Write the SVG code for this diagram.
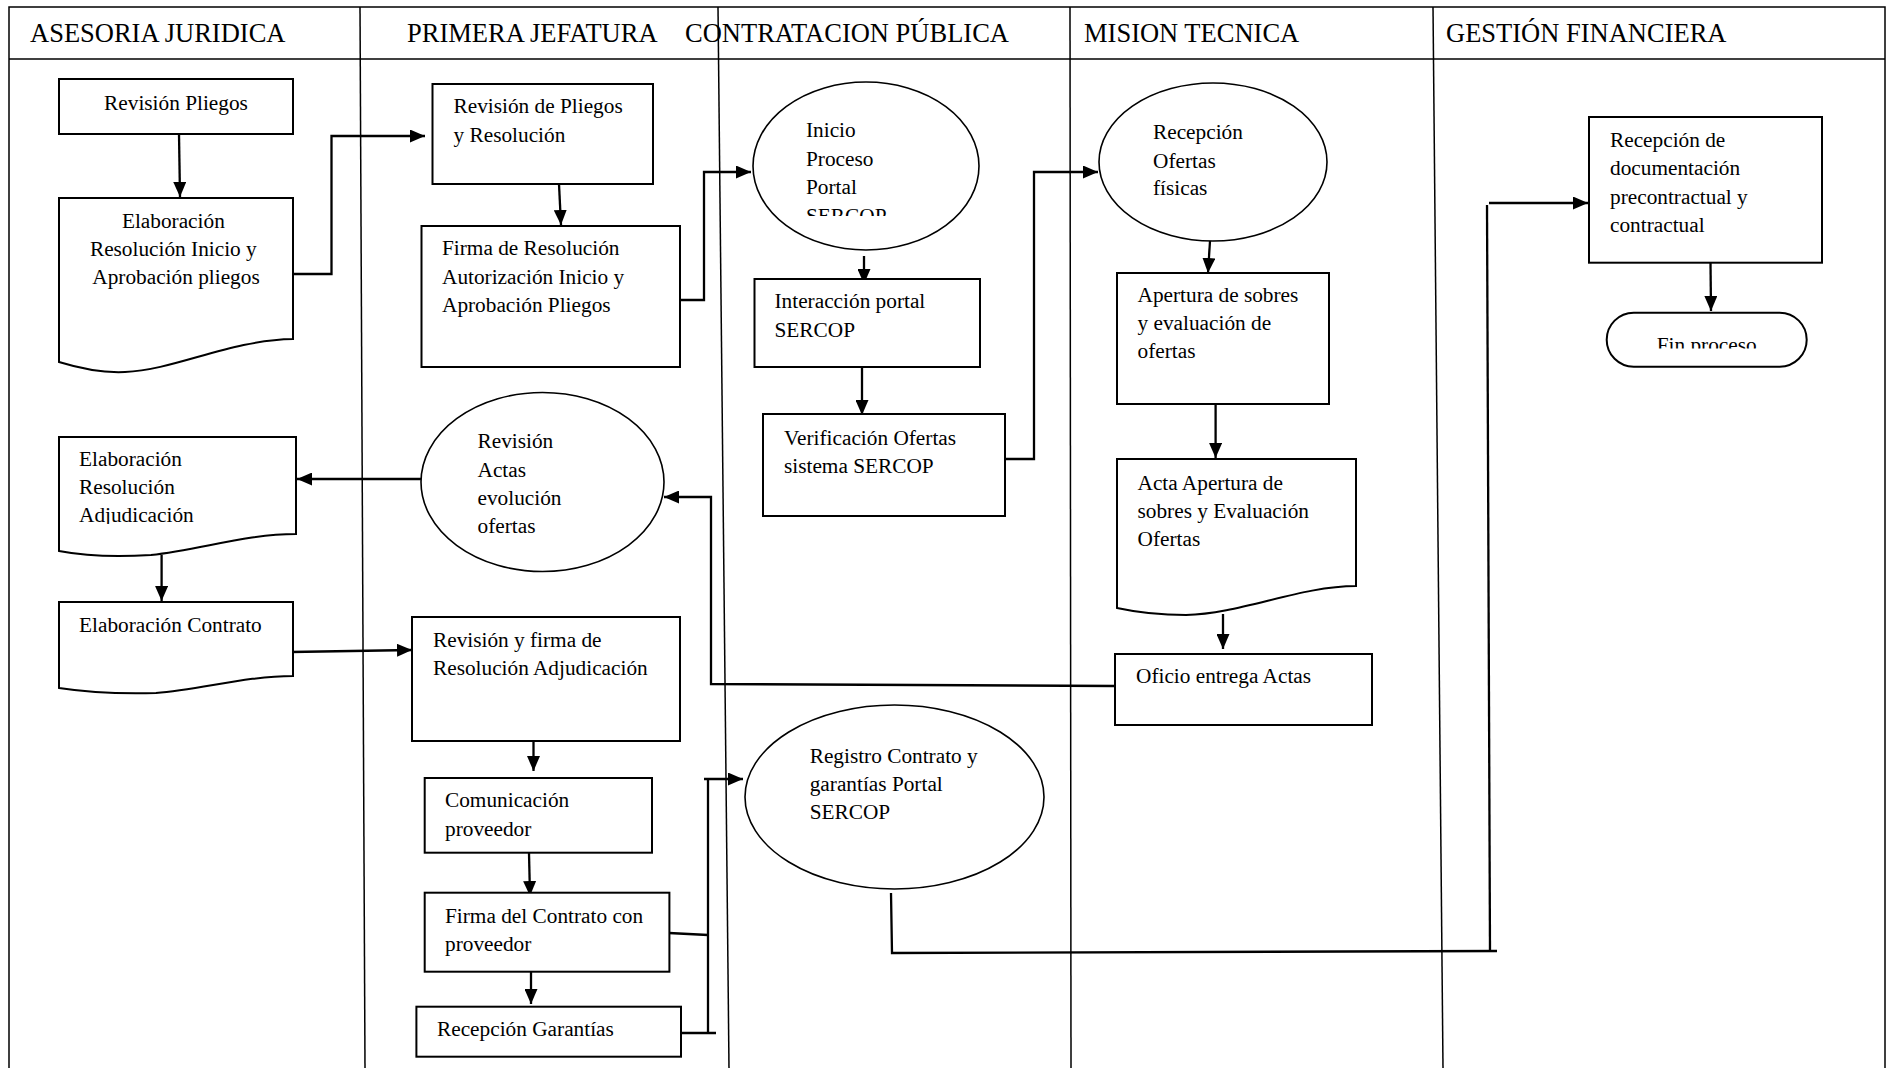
<svg xmlns="http://www.w3.org/2000/svg" width="1895" height="1068" viewBox="0 0 1895 1068">
  <style>
    .lane { fill: none; stroke: #000; stroke-width: 1.5; }
    .hdr { font-family: "Liberation Serif", "Times New Roman", serif; font-size: 26.5px; fill: #000; }
    .box { fill: #fff; stroke: #000; stroke-width: 2; }
    .oval { fill: #fff; stroke: #000; stroke-width: 1.6; }
    .t { font-family: "Liberation Serif", "Times New Roman", serif; font-size: 21.3px; fill: #000; }
    .conn path { fill: none; stroke: #000; stroke-width: 2.3; }
    .conn .arr { marker-end: url(#arrow); }
  </style>
  <defs>
    <marker id="arrow" markerUnits="userSpaceOnUse" markerWidth="15" markerHeight="13" refX="15" refY="6.5" orient="auto">
      <path d="M0,0 L15,6.5 L0,13 z" fill="#000"/>
    </marker>
    <clipPath id="clipInicio"><rect x="760" y="100" width="200" height="116"/></clipPath>
    <clipPath id="clipFin"><rect x="1610" y="320" width="195" height="28.5"/></clipPath>
    <clipPath id="clipAdj"><rect x="60" y="440" width="230" height="84"/></clipPath>
  </defs>

  <rect width="1895" height="1068" fill="#fff"/>

  <!-- swimlane frame -->
  <g id="lanes">
    <path class="lane" d="M9,1068 V7 H1885 V1068" stroke-width="2"/>
    <path class="lane" d="M9,59 H1885" stroke-width="2"/>
    <path class="lane" d="M360,7 L365,1068"/>
    <path class="lane" d="M718,7 L729,1068"/>
    <path class="lane" d="M1070,7 L1071,1068"/>
    <path class="lane" d="M1433,7 L1443,1068"/>
    <text class="hdr" x="30" y="42">ASESORIA JURIDICA</text>
    <text class="hdr" x="407" y="42">PRIMERA JEFATURA</text>
    <text class="hdr" x="685" y="42">CONTRATACION PÚBLICA</text>
    <text class="hdr" x="1084" y="42">MISION TECNICA</text>
    <text class="hdr" x="1446" y="42">GESTIÓN FINANCIERA</text>
  </g>

  <!-- connectors -->
  <g id="connectors" class="conn">
    <path class="arr" d="M179,134 L180,197"/>
    <path class="arr" d="M293,274 H331.5 V136 H425"/>
    <path class="arr" d="M559,184 L561,225"/>
    <path class="arr" d="M680,300 H704 V172 H751"/>
    <path class="arr" d="M864,256 V284"/>
    <path class="arr" d="M862,367 V415"/>
    <path class="arr" d="M1005,459 H1034 V172 H1098"/>
    <path class="arr" d="M1210,241 L1208,273"/>
    <path class="arr" d="M1215.6,404 V458"/>
    <path class="arr" d="M1223,614 V649"/>
    <path class="arr" d="M1115,686 L711,684 V497 H664"/>
    <path class="arr" d="M421,479 H297"/>
    <path class="arr" d="M161.6,555 V601"/>
    <path class="arr" d="M291,652 L412,650"/>
    <path class="arr" d="M533.5,741 V771"/>
    <path class="arr" d="M529,853 L530,896"/>
    <path class="arr" d="M531,972 V1004"/>
    <path d="M669,933 L708,935"/>
    <path d="M681,1033 H716"/>
    <path d="M708,779 V1034"/>
    <path class="arr" d="M704,779 H743"/>
    <path d="M891,893 L892,953 L1497,951"/>
    <path d="M1490,951 L1487,205"/>
    <path class="arr" d="M1489,203 H1588"/>
    <path class="arr" d="M1710.5,263 L1711,311"/>
  </g>

  <!-- ASESORIA JURIDICA -->
  <g id="revision-pliegos">
    <rect class="box" x="59" y="79" width="234" height="55"/>
    <text class="t" x="176" y="110" text-anchor="middle">Revisión Pliegos</text>
  </g>
  <g id="elaboracion-resolucion-inicio">
    <path class="box" d="M59,198 H293 V339 C230,340 175,370 125,372 C105,373 85,370 59,362 Z"/>
    <text class="t" text-anchor="middle">
      <tspan x="176" y="228">Elaboración</tspan>
      <tspan x="176" y="256">Resolución Inicio y</tspan>
      <tspan x="176" y="284">Aprobación pliegos</tspan>
    </text>
  </g>
  <g id="elaboracion-resolucion-adjudicacion">
    <path class="box" d="M59,437 H296 V534 C245,534 200,550 151,555 C120,557 85,556 59,551 Z"/>
    <text class="t" clip-path="url(#clipAdj)">
      <tspan x="79" y="466">Elaboración</tspan>
      <tspan x="79" y="494">Resolución</tspan>
      <tspan x="79" y="522">Adjudicación</tspan>
    </text>
  </g>
  <g id="elaboracion-contrato">
    <path class="box" d="M59,602 H293 V676 C245,676 200,690 156,693 C120,694 85,692 59,688 Z"/>
    <text class="t" x="79" y="632">Elaboración Contrato</text>
  </g>

  <!-- PRIMERA JEFATURA -->
  <g id="revision-pliegos-resolucion">
    <rect class="box" x="432.5" y="84" width="220.5" height="100"/>
    <text class="t">
      <tspan x="453.5" y="113">Revisión de Pliegos</tspan>
      <tspan x="453.5" y="142">y Resolución</tspan>
    </text>
  </g>
  <g id="firma-resolucion">
    <rect class="box" x="421.5" y="226" width="258.5" height="141"/>
    <text class="t">
      <tspan x="442" y="255">Firma de Resolución</tspan>
      <tspan x="442" y="283.5">Autorización Inicio y</tspan>
      <tspan x="442" y="312">Aprobación Pliegos</tspan>
    </text>
  </g>
  <g id="revision-actas">
    <ellipse class="oval" cx="542.5" cy="482" rx="121.5" ry="89.5"/>
    <text class="t">
      <tspan x="477.5" y="448">Revisión</tspan>
      <tspan x="477.5" y="476.5">Actas</tspan>
      <tspan x="477.5" y="505">evolución</tspan>
      <tspan x="477.5" y="533">ofertas</tspan>
    </text>
  </g>
  <g id="revision-firma-adjudicacion">
    <rect class="box" x="412" y="617" width="268" height="124"/>
    <text class="t">
      <tspan x="433" y="647">Revisión y firma de</tspan>
      <tspan x="433" y="675">Resolución Adjudicación</tspan>
    </text>
  </g>
  <g id="comunicacion-proveedor">
    <rect class="box" x="424.7" y="778" width="227.3" height="74.7"/>
    <text class="t">
      <tspan x="445" y="807">Comunicación</tspan>
      <tspan x="445" y="836">proveedor</tspan>
    </text>
  </g>
  <g id="firma-contrato">
    <rect class="box" x="424.7" y="892.7" width="244.7" height="79"/>
    <text class="t">
      <tspan x="445" y="922.7">Firma del Contrato con</tspan>
      <tspan x="445" y="950.7">proveedor</tspan>
    </text>
  </g>
  <g id="recepcion-garantias">
    <rect class="box" x="416.4" y="1006.7" width="264.6" height="50"/>
    <text class="t" x="437" y="1036">Recepción Garantías</text>
  </g>

  <!-- CONTRATACION PÚBLICA -->
  <g id="inicio-proceso">
    <ellipse class="oval" cx="866" cy="166" rx="113" ry="84"/>
    <text class="t" clip-path="url(#clipInicio)">
      <tspan x="806" y="137">Inicio</tspan>
      <tspan x="806" y="165.5">Proceso</tspan>
      <tspan x="806" y="194">Portal</tspan>
      <tspan x="806" y="222.5">SERCOP</tspan>
    </text>
  </g>
  <g id="interaccion-portal">
    <rect class="box" x="754.5" y="279" width="225.5" height="88"/>
    <text class="t">
      <tspan x="774.5" y="308">Interacción portal</tspan>
      <tspan x="774.5" y="337">SERCOP</tspan>
    </text>
  </g>
  <g id="verificacion-ofertas">
    <rect class="box" x="763" y="414" width="242" height="102"/>
    <text class="t">
      <tspan x="784" y="445">Verificación Ofertas</tspan>
      <tspan x="784" y="473">sistema SERCOP</tspan>
    </text>
  </g>
  <g id="registro-contrato">
    <ellipse class="oval" cx="894.5" cy="797" rx="149.5" ry="92"/>
    <text class="t">
      <tspan x="809.7" y="763">Registro Contrato y</tspan>
      <tspan x="809.7" y="791">garantías Portal</tspan>
      <tspan x="809.7" y="819">SERCOP</tspan>
    </text>
  </g>

  <!-- MISION TECNICA -->
  <g id="recepcion-ofertas">
    <ellipse class="oval" cx="1213" cy="162" rx="114" ry="79"/>
    <text class="t">
      <tspan x="1153" y="139">Recepción</tspan>
      <tspan x="1153" y="168">Ofertas</tspan>
      <tspan x="1153" y="195">físicas</tspan>
    </text>
  </g>
  <g id="apertura-sobres">
    <rect class="box" x="1117" y="273" width="212" height="131"/>
    <text class="t">
      <tspan x="1137.5" y="302">Apertura de sobres</tspan>
      <tspan x="1137.5" y="330">y evaluación de</tspan>
      <tspan x="1137.5" y="358">ofertas</tspan>
    </text>
  </g>
  <g id="acta-apertura">
    <path class="box" d="M1117,459 H1356 V586 C1300,586 1240,614 1186,615 C1160,615 1140,613 1117,608 Z"/>
    <text class="t">
      <tspan x="1137.5" y="490">Acta Apertura de</tspan>
      <tspan x="1137.5" y="517.5">sobres y Evaluación</tspan>
      <tspan x="1137.5" y="545.5">Ofertas</tspan>
    </text>
  </g>
  <g id="oficio-entrega">
    <rect class="box" x="1115" y="654" width="257" height="71"/>
    <text class="t" x="1136" y="683">Oficio entrega Actas</text>
  </g>

  <!-- GESTIÓN FINANCIERA -->
  <g id="recepcion-documentacion">
    <rect class="box" x="1589" y="117" width="233" height="145.7"/>
    <text class="t">
      <tspan x="1610" y="146.7">Recepción de</tspan>
      <tspan x="1610" y="175">documentación</tspan>
      <tspan x="1610" y="204">precontractual y</tspan>
      <tspan x="1610" y="231.7">contractual</tspan>
    </text>
  </g>
  <g id="fin-proceso">
    <rect class="box" x="1606.7" y="312.7" width="200" height="54" rx="27" ry="27"/>
    <text class="t" x="1706.7" y="352" text-anchor="middle" clip-path="url(#clipFin)">Fin proceso</text>
  </g>
</svg>
